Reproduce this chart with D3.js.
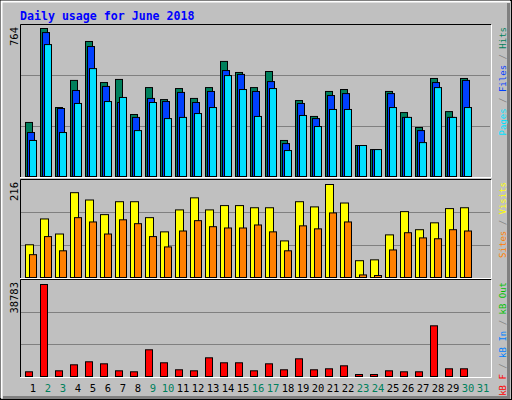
<!DOCTYPE html>
<html lang="en">
<head>
<meta charset="UTF-8">
<title>Daily usage for June 2018</title>
<script src="https://d3js.org/d3.v7.min.js"></script>
<style>body{margin:0;background:#fff}</style>
</head>
<body>
<svg></svg>
<script>
const days = d3.range(1, 32);
const weekend = [2, 3, 9, 10, 16, 17, 23, 24, 30, 31];
const hits  = [279,764,356,496,697,485,501,320,459,397,454,403,459,594,537,459,542,186,392,310,439,449,160,139,439,330,253,506,335,506,0];
const files = [227,743,351,444,671,465,382,305,403,387,434,382,439,547,527,439,490,170,377,299,418,428,160,139,428,305,237,485,305,496,0];
const pages = [186,681,227,377,557,387,408,237,382,299,305,325,356,521,449,310,454,134,315,258,346,346,160,139,356,305,175,459,305,356,0];
const visits = [76,136,101,197,180,146,176,176,139,106,157,185,157,167,167,162,162,85,176,164,216,173,39,41,99,153,111,127,160,162,0];
const sites  = [53,95,62,139,129,101,134,125,95,71,108,132,118,115,115,122,106,62,120,113,150,129,6,1,64,104,92,90,111,108,0];
const kbytes = [1980,38783,2400,4930,6200,5350,2400,1980,11260,5780,2830,2400,7880,5780,5780,2400,5350,2830,7460,2830,3250,4510,150,150,2400,1980,1980,21370,3250,3250,0];
const maxHits = 764, maxVisits = 216, maxKB = 38783;

const svg = d3.select("svg").attr("width", 512).attr("height", 400);
const mono = "DejaVu Sans Mono, monospace";

// frame
svg.append("rect").attr("x", 0.5).attr("y", 0.5).attr("width", 511).attr("height", 399)
  .attr("fill", "#c0c0c0").attr("stroke", "#000");
svg.append("path").attr("d", "M1.5,398V1.5H510").attr("fill", "none").attr("stroke", "#fff").attr("stroke-width", 2);
svg.append("path").attr("d", "M3,397.5H508.5V3").attr("fill", "none").attr("stroke", "#808080").attr("stroke-width", 3);

svg.append("text").attr("x", 20).attr("y", 20).text("Daily usage for June 2018")
  .attr("font-family", mono).attr("font-weight", "bold").attr("font-size", 11.6).attr("fill", "#0000ff");

const x = d3.scaleLinear().domain([1, 31]).range([25, 475]);

const panels = [
  {top: 25, bottom: 176, max: maxHits, maxY: 28, label: "764",
   series: [{v: hits, dx: 0, c: "#00805c"}, {v: files, dx: 2, c: "#0040ff"}, {v: pages, dx: 4, c: "#00e0ff"}],
   legend: [["Pages", "#00e0ff"], [" / ", "#808080"], ["Files", "#0040ff"], [" / ", "#808080"], ["Hits", "#00805c"]]},
  {top: 180, bottom: 277, max: maxVisits, maxY: 184, label: "216",
   series: [{v: visits, dx: 0, w: 8, c: "#ffff00"}, {v: sites, dx: 4, c: "#ff8000"}],
   legend: [["Sites", "#ff8000"], [" / ", "#808080"], ["Visits", "#ffff00"]]},
  {top: 280, bottom: 376, max: maxKB, maxY: 284, label: "38783",
   series: [{v: kbytes, dx: 0, c: "#ff0000"}],
   legend: [["kB F", "#ff0000"], [" / ", "#808080"], ["kB In", "#0080ff"], [" / ", "#808080"], ["kB Out", "#00c000"]]}
];

panels.forEach(p => {
  const y = d3.scaleLinear().domain([0, p.max]).range([p.bottom, p.maxY]);
  const h = p.bottom - p.top;
  svg.append("rect").attr("x", 20).attr("y", p.top).attr("width", 471).attr("height", h + 1).attr("fill", "#c0c0c0");
  [1, 2].forEach(k => {
    const gy = Math.round(p.bottom - h * k / 3) + 0.5;
    svg.append("line").attr("x1", 21).attr("x2", 490).attr("y1", gy).attr("y2", gy)
      .attr("stroke", "#808080");
  });
  p.series.forEach(s => {
    svg.append("g").selectAll("rect").data(days.filter((d, i) => s.v[i] > 0)).join("rect")
      .attr("x", d => x(d) + s.dx + 0.5)
      .attr("y", d => Math.min(y(s.v[d - 1]), p.bottom - 2) + 0.5)
      .attr("width", s.w || 7)
      .attr("height", d => Math.max(p.bottom - y(s.v[d - 1]), 2))
      .attr("fill", s.c).attr("stroke", "#000");
  });
  svg.append("path").attr("d", `M20.5,${p.bottom + 1}V${p.top - 0.5}H491`).attr("fill", "none").attr("stroke", "#000");
  svg.append("path").attr("d", `M20,${p.bottom + 1.5}H491.5V${p.top}`).attr("fill", "none").attr("stroke", "#fff");
  svg.append("text").attr("transform", `translate(18,${p.top + 2}) rotate(-90)`)
    .attr("text-anchor", "end").attr("font-family", mono).attr("font-size", 10.5).text(p.label);
  const t = svg.append("text").attr("transform", `translate(506,${p.top + 2}) rotate(-90)`)
    .attr("text-anchor", "end").attr("font-family", mono).attr("font-size", 9);
  p.legend.forEach(([s, c]) => t.append("tspan").attr("fill", c).text(s));
});

svg.append("g").selectAll("text").data(days).join("text")
  .attr("x", d => x(d) + 8).attr("y", 392).attr("text-anchor", "middle")
  .attr("font-family", mono).attr("font-size", 10.5)
  .attr("fill", d => weekend.includes(d) ? "#00805c" : "#000")
  .text(d => d);
</script>
</body>
</html>
